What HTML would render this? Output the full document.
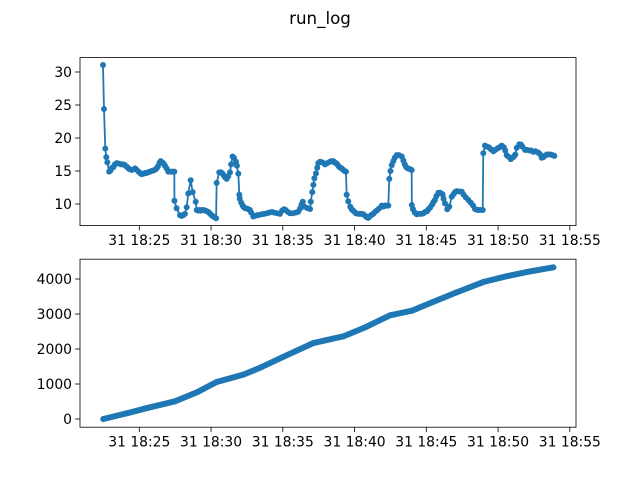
<!DOCTYPE html>
<html><head><meta charset="utf-8"><style>
body{margin:0;background:#fff}
svg{display:block;font-family:"DejaVu Sans","Liberation Sans",sans-serif}
</style></head><body>
<svg id="c" width="640" height="480" viewBox="0 0 640 480">
<rect width="640" height="480" fill="#fff"/>
<text x="320" y="24" font-size="16.7" text-anchor="middle">run_log</text>
<g id="top"></g>
<g id="bot"></g>
</svg>
<script>
// times in minutes after 18:00
const topTimes=[22.47,22.54,22.63,22.7,22.77,22.9,23.1,23.43,23.88,24.2,24.47,24.7,24.95,25.17,25.5,25.86,26.21,26.49,26.79,27.02,27.44,27.45,27.6,27.84,28.18,28.41,28.58,28.72,28.93,29.0,29.46,29.81,30.16,30.35,30.39,30.57,30.8,31.09,31.32,31.5,31.74,31.9,31.97,32.25,32.71,32.94,33.53,34.23,34.8,35.08,35.5,36.08,36.39,36.5,36.9,36.95,37.13,37.31,37.47,37.94,38.29,38.52,38.71,39.1,39.4,39.45,39.56,39.8,40.26,40.61,40.96,41.42,41.89,42.35,42.42,42.59,42.94,43.29,43.59,43.98,43.99,44.07,44.33,44.91,45.26,45.6,45.84,46.14,46.3,46.46,46.77,47.12,47.47,47.93,48.39,48.93,48.97,49.09,49.67,50.25,50.6,50.88,51.2,51.48,51.88,52.46,53.04,53.39,53.92];
const topValues=[31.06,24.4,18.4,17.1,16.3,14.9,15.5,16.2,16.0,15.5,15.15,15.4,14.9,14.5,14.7,15.0,15.4,16.5,15.8,14.9,14.9,10.5,9.35,8.3,8.5,11.6,13.6,11.8,10.35,9.1,9.1,8.8,8.1,7.85,13.2,14.8,14.6,13.8,14.8,17.2,16.4,14.6,11.4,9.6,9.1,8.1,8.45,8.8,8.5,9.2,8.6,8.85,10.35,9.6,9.25,10.35,12.9,14.65,16.2,16.0,16.4,16.5,16.2,15.4,14.9,11.4,10.4,9.2,8.5,8.45,7.9,8.8,9.75,9.75,13.8,15.9,17.4,17.2,15.6,15.15,9.85,9.2,8.45,8.8,9.45,10.6,11.7,11.45,10.1,9.2,11.1,11.95,11.85,10.6,9.25,9.1,17.7,18.85,18.0,18.85,17.4,16.8,17.5,19.05,18.2,17.9,17.0,17.5,17.3];
const topExtraTimes=[23.0,23.2,23.3,23.6,23.75,24.0,24.1,24.3,24.8,25.05,25.3,25.4,25.6,25.75,26.0,26.1,26.3,26.4,26.6,26.7,26.9,27.15,27.3,27.95,28.05,28.3,29.1,29.2,29.3,29.4,29.6,29.7,29.9,30.0,30.1,30.25,30.7,30.9,31.0,31.2,31.4,31.6,31.8,32.0,32.1,32.2,32.35,32.5,32.6,32.8,33.05,33.2,33.35,33.7,33.9,34.05,34.4,34.6,34.95,35.2,35.35,35.7,35.9,36.2,36.3,36.7,37.05,37.2,37.4,37.6,37.75,38.1,38.4,38.6,38.8,38.9,39.0,39.2,39.3,39.7,39.9,40.0,40.1,40.4,40.5,40.75,40.85,41.1,41.2,41.3,41.55,41.7,42.0,42.1,42.2,42.5,42.7,42.8,43.1,43.4,43.5,43.7,43.85,44.2,44.5,44.65,44.8,45.05,45.15,45.4,45.5,45.7,45.95,46.05,46.2,46.6,46.9,47.0,47.3,47.6,47.75,48.1,48.25,48.5,48.6,48.75,49.2,49.35,49.5,49.8,49.95,50.1,50.4,50.5,50.7,51.0,51.1,51.3,51.6,51.7,52.0,52.2,52.3,52.6,52.8,52.9,53.15,53.25,53.5,53.65,53.8];
const topExtraValues=[15.1,15.6,16.0,16.1,16.0,15.9,15.7,15.3,15.2,14.7,14.6,14.7,14.8,14.9,15.1,15.2,15.7,16.2,16.3,16.1,15.4,14.9,14.9,8.2,8.3,9.5,9.0,9.1,9.0,9.1,9.0,8.9,8.6,8.4,8.2,8.0,14.8,14.3,14.0,14.2,16.0,17.0,15.8,10.8,10.2,9.8,9.4,9.3,9.2,8.7,8.2,8.3,8.35,8.5,8.6,8.7,8.7,8.6,9.0,9.1,8.8,8.6,8.7,9.3,9.9,9.4,11.8,13.9,15.5,16.4,16.3,16.2,16.5,16.3,16.0,15.7,15.5,15.2,15.0,9.6,9.0,8.8,8.6,8.5,8.5,8.2,8.0,8.2,8.4,8.5,9.0,9.3,9.6,9.75,9.75,15.0,16.5,17.0,17.4,16.6,16.0,15.4,15.3,8.7,8.5,8.5,8.6,8.9,9.2,9.9,10.3,11.2,11.7,11.6,10.8,9.6,11.5,11.8,11.9,11.4,11.0,10.2,9.8,9.15,9.1,9.1,18.7,18.6,18.3,18.2,18.4,18.6,18.6,18.1,17.2,17.0,17.2,18.5,19.0,18.7,18.2,18.1,18.1,18.0,17.8,17.6,17.1,17.3,17.5,17.5,17.4];
const botTimes=[22.49,24.0,25.5,27.49,29.0,30.39,32.25,33.5,35.0,37.13,39.22,40.8,42.47,44.0,45.5,47.0,48.97,50.5,52.0,53.85];
const botValues=[0,150,310,505,760,1057,1267,1480,1770,2171,2362,2630,2962,3095,3350,3600,3914,4070,4200,4334];
const xTickVals=[25,30,35,40,45,50,55];
const xTickLabels=["31 18:25","31 18:30","31 18:35","31 18:40","31 18:45","31 18:50","31 18:55"];
const topYTicks=[10,15,20,25,30];
const botYTicks=[0,1000,2000,3000,4000];

const NS="http://www.w3.org/2000/svg";
const X0=80,X1=576,TMIN=20.868,TMAX=55.43;
const xs=t=>X0+(t-TMIN)/(TMAX-TMIN)*(X1-X0);
function mk(tag,attrs,parent){const e=document.createElementNS(NS,tag);for(const k in attrs)e.setAttribute(k,attrs[k]);parent.appendChild(e);return e;}
function merge(t1,v1,t2,v2){const a=[];t1.forEach((t,i)=>a.push([t,v1[i]]));t2.forEach((t,i)=>a.push([t,v2[i]]));a.sort((p,q)=>p[0]-q[0]);return [a.map(p=>p[0]),a.map(p=>p[1])];}
function drawAxes(g,top,bot,ymin,ymax,yticks,times,vals,prefix,thick){
  const ys=v=>bot-(v-ymin)/(ymax-ymin)*(bot-top);
  const pts=times.map((t,i)=>xs(t).toFixed(2)+","+ys(vals[i]).toFixed(2)).join(" ");
  if(thick){const band=mk("polyline",{points:pts,fill:"none",stroke:"#1f77b4","stroke-width":6,"stroke-linecap":"round","stroke-linejoin":"round"},g);
    
    }
  const line=mk("polyline",{points:pts,fill:"none",stroke:"#1f77b4","stroke-width":1.8,"stroke-linejoin":"round"},g);
  
  
  times.forEach((t,i)=>{const c=mk("circle",{cx:xs(t).toFixed(2),cy:ys(vals[i]).toFixed(2),r:3,fill:"#1f77b4"},g);
    
    });
  const fr=mk("rect",{x:X0,y:top,width:X1-X0,height:bot-top,fill:"none",stroke:"#000","stroke-width":0.8},g);
  
  
  xTickVals.forEach((t,i)=>{const x=xs(t);
    const tk=mk("line",{x1:x,x2:x,y1:bot,y2:bot+4.9,stroke:"#000","stroke-width":0.8},g);
    
    
    const tx=mk("text",{x:x,y:bot+19.5,"font-size":13.9,"text-anchor":"middle"},g);tx.textContent=xTickLabels[i];
    
    });
  yticks.forEach(v=>{const y=ys(v);
    const tk=mk("line",{x1:X0-4.9,x2:X0,y1:y,y2:y,stroke:"#000","stroke-width":0.8},g);
    
    
    const tx=mk("text",{x:X0-8,y:y+5,"font-size":13.9,"text-anchor":"end"},g);tx.textContent=String(v);
    
    });
}
const topAll=merge(topTimes,topValues,topExtraTimes,topExtraValues);
drawAxes(document.getElementById("top"),57.6,225.6,6.73,32.18,topYTicks,topAll[0],topAll[1],"top",false);
drawAxes(document.getElementById("bot"),259.2,427.2,-234,4566,botYTicks,botTimes,botValues,"bottom",true);
</script>
</body></html>
